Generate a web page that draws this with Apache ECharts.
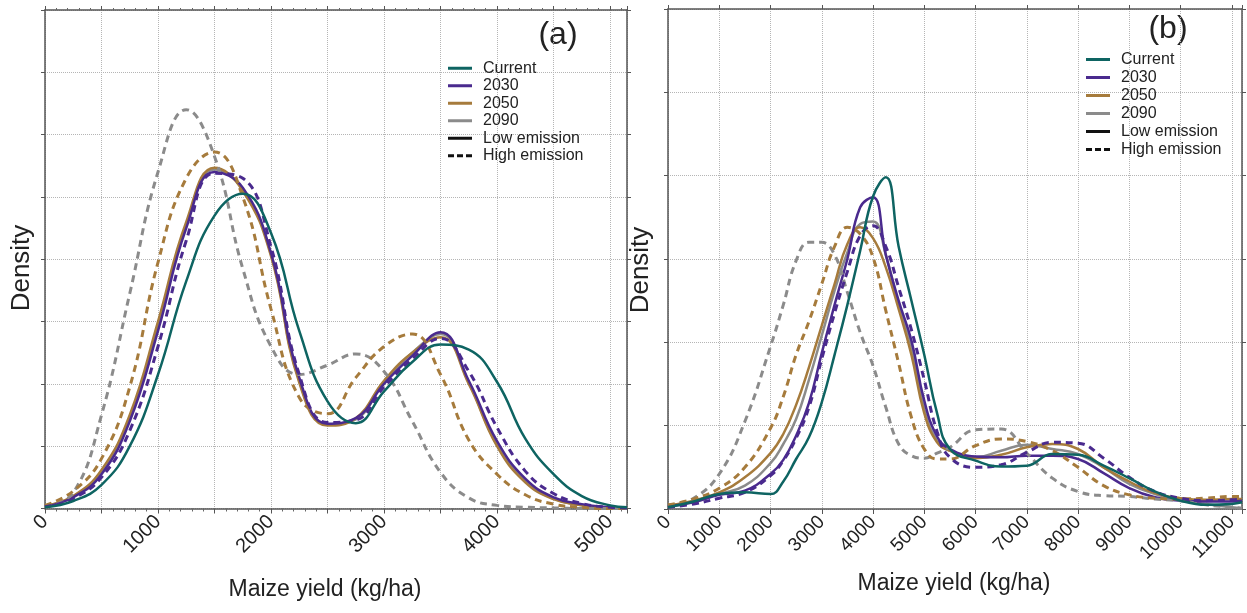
<!DOCTYPE html>
<html>
<head>
<meta charset="utf-8">
<script src="https://cdn.jsdelivr.net/npm/echarts@6/dist/echarts.min.js"></script>
<style>
html,body{margin:0;padding:0;background:#fff;}
#chart{width:1247px;height:613px;}
</style>
</head>
<body>
<div id="chart"></div>
<script>
// ---------- Panel (a) data ----------
const xA = [0,250,500,750,1000,1250,1500,1750,2000,2250,2500,2750,3000,3250,3500,3750,4000,4250,4500,4750,5000,5150];
const aCurrent  = [0.02,0.12,0.38,1.0,2.15,3.65,4.7,5.05,4.42,2.85,1.72,1.37,1.88,2.35,2.63,2.55,2.03,1.12,0.55,0.2,0.05,0.02];
const a2030Low  = [0.03,0.18,0.55,1.4,2.85,4.5,5.4,5.15,4.1,2.1,1.36,1.45,2.0,2.45,2.83,2.05,1.08,0.48,0.18,0.07,0.02,0.01];
const a2030High = [0.03,0.16,0.5,1.25,2.6,4.3,5.38,5.3,4.2,2.15,1.38,1.42,1.95,2.4,2.73,2.2,1.3,0.6,0.24,0.08,0.02,0.01];
const a2050Low  = [0.04,0.2,0.62,1.5,3.0,4.6,5.47,5.1,4.05,2.02,1.33,1.45,2.05,2.5,2.75,2.0,1.0,0.42,0.15,0.05,0.01,0];
const a2050High = [0.05,0.28,0.8,1.95,3.95,5.3,5.72,5.0,3.2,1.78,1.52,2.1,2.6,2.8,2.15,1.1,0.55,0.22,0.07,0.02,0,0];
const a2090Low  = [0.04,0.19,0.6,1.45,2.95,4.55,5.44,5.12,4.08,2.05,1.35,1.43,2.03,2.5,2.8,2.02,1.02,0.44,0.16,0.05,0.01,0];
const a2090High = [0.03,0.25,1.5,3.45,5.4,6.4,5.65,3.85,2.6,2.15,2.3,2.48,2.2,1.4,0.58,0.17,0.05,0.02,0.01,0,0,0];

// ---------- Panel (b) data ----------
const xB = [0,500,1000,1500,2000,2250,2500,2750,3000,3250,3500,3750,4000,4250,4500,4750,5000,5250,5500,6000,6500,7000,7500,8000,8500,9000,9500,10000,10500,11000,11200];
const bCurrent  = [0.02,0.09,0.18,0.2,0.18,0.33,0.6,0.86,1.28,1.85,2.45,3.1,3.75,3.98,3.15,2.5,1.85,1.15,0.72,0.58,0.51,0.52,0.66,0.65,0.52,0.37,0.21,0.1,0.05,0.06,0.08];
const b2030Low  = [0.03,0.08,0.17,0.22,0.42,0.59,0.88,1.27,1.87,2.45,3.0,3.62,3.74,3.05,2.5,2.02,1.3,0.87,0.72,0.63,0.62,0.64,0.64,0.6,0.43,0.25,0.14,0.1,0.09,0.09,0.1];
const b2030High = [0.02,0.06,0.13,0.2,0.4,0.58,0.85,1.22,1.8,2.35,2.85,3.28,3.4,3.15,2.66,2.15,1.55,0.93,0.62,0.5,0.53,0.68,0.8,0.79,0.61,0.38,0.21,0.13,0.1,0.11,0.12];
const b2050Low  = [0.04,0.1,0.2,0.38,0.67,0.9,1.25,1.7,2.2,2.7,3.18,3.38,3.25,2.9,2.4,1.85,1.15,0.8,0.7,0.61,0.65,0.74,0.78,0.72,0.5,0.33,0.19,0.13,0.11,0.12,0.12];
const b2050High = [0.05,0.12,0.25,0.5,0.97,1.35,1.85,2.25,2.7,3.15,3.38,3.3,3.02,2.38,1.75,1.1,0.72,0.6,0.6,0.76,0.84,0.81,0.7,0.5,0.28,0.17,0.13,0.12,0.13,0.15,0.15];
const b2090Low  = [0.04,0.09,0.18,0.28,0.55,0.78,1.08,1.55,2.08,2.62,3.08,3.42,3.45,3.05,2.45,1.95,1.2,0.82,0.7,0.62,0.7,0.77,0.72,0.66,0.5,0.3,0.18,0.11,0.06,0.02,0.01];
const b2090High = [0.04,0.13,0.42,1.05,1.95,2.45,2.98,3.2,3.2,3.05,2.6,2.12,1.72,1.22,0.78,0.64,0.61,0.67,0.74,0.95,0.96,0.67,0.37,0.21,0.16,0.15,0.12,0.1,0.05,0.02,0.01];

// ---------- Labels ----------
const legendNames = ['Current','2030','2050','2090','Low emission','High emission'];
const xTitle = 'Maize yield (kg/ha)';
const yTitle = 'Density';

const COL = {cur:'#0e6462', y2030:'#4a2a8e', y2050:'#a67b3c', y2090:'#8b8b8b'};
const FONT = 'Liberation Sans, Arial, Helvetica, sans-serif';
const DASH = [7,5];
const DASH_ICON = 'path://M0,0H6V2H0Z M9,0H15V2H9Z M18,0H24V2H18Z';

function pairs(xs, ys){ return xs.map((x,i)=>[x, ys[i]]); }
function line(name, xs, ys, color, dashed, idx, z){
  return {
    name: name, type:'line', xAxisIndex: idx, yAxisIndex: idx,
    data: pairs(xs, ys), smooth: 0.45, symbol:'none', showSymbol:false,
    lineStyle:{color: color, width: dashed ? 3 : 2.5, type: dashed ? DASH : 'solid'},
    itemStyle:{color: color}, z: z, silent:true
  };
}

function xAxes(grid, max, interval, labelEvery, fontSize, minor){
  return [{
    type:'value', gridIndex: grid, position:'bottom', min:0, max:max, interval:interval,
    axisLine:{show:true, onZero:false, lineStyle:{color:'#555', width:1.5}},
    axisTick:{show:true, length:5, lineStyle:{color:'#555'}},
    minorTick:{show: minor, splitNumber:5, length:3, lineStyle:{color:'#666'}},
    splitLine:{show:true, lineStyle:{color:'#b5b5b5', type:'dotted', width:1}},
    axisLabel:{rotate:45, fontSize:fontSize, color:'#222', fontFamily:FONT, margin:10,
      formatter: v => (v % labelEvery === 0 ? String(v) : '')}
  },{
    type:'value', gridIndex: grid, position:'top', min:0, max:max, interval:interval,
    axisLine:{show:true, onZero:false, lineStyle:{color:'#555', width:1.5}},
    axisTick:{show:true, length:4, lineStyle:{color:'#555'}},
    minorTick:{show: minor, splitNumber:5, length:2, lineStyle:{color:'#666'}},
    splitLine:{show:false}, axisLabel:{show:false}
  }];
}
function yAxes(grid, max){
  return [{
    type:'value', gridIndex: grid, position:'left', min:0, max:max, interval:1,
    axisLine:{show:true, onZero:false, lineStyle:{color:'#555', width:1.5}},
    axisTick:{show:true, length:4, lineStyle:{color:'#555'}},
    splitLine:{show:true, lineStyle:{color:'#b5b5b5', type:'dotted', width:1}},
    axisLabel:{show:false}
  },{
    type:'value', gridIndex: grid, position:'right', min:0, max:max, interval:1,
    axisLine:{show:true, onZero:false, lineStyle:{color:'#555', width:1.5}},
    axisTick:{show:true, length:4, lineStyle:{color:'#555'}},
    splitLine:{show:false}, axisLabel:{show:false}
  }];
}

const xa = xAxes(0, 5150, 500, 1000, 20, true);
const xb = xAxes(1, 11200, 1000, 1000, 19, false);
const ya = yAxes(0, 8);
const yb = yAxes(1, 6);

// axis index 0 = panel (a) bottom/left, 2 = panel (b) bottom/left
const series = [
  line('2090', xA, a2090Low, COL.y2090, false, 0, 2),
  line('2050', xA, a2050Low, COL.y2050, false, 0, 3),
  line('2030', xA, a2030Low, COL.y2030, false, 0, 4),
  line('2090 high', xA, a2090High, COL.y2090, true, 0, 5),
  line('2050 high', xA, a2050High, COL.y2050, true, 0, 5),
  line('2030 high', xA, a2030High, COL.y2030, true, 0, 6),
  line('Current', xA, aCurrent, COL.cur, false, 0, 7),
  line('2090', xB, b2090Low, COL.y2090, false, 2, 2),
  line('2050', xB, b2050Low, COL.y2050, false, 2, 3),
  line('2030', xB, b2030Low, COL.y2030, false, 2, 4),
  line('2090 high', xB, b2090High, COL.y2090, true, 2, 5),
  line('2050 high', xB, b2050High, COL.y2050, true, 2, 5),
  line('2030 high', xB, b2030High, COL.y2030, true, 2, 6),
  line('Current', xB, bCurrent, COL.cur, false, 2, 7),
  {name:'Low emission', type:'line', xAxisIndex:0, yAxisIndex:0, data:[], symbol:'none',
   lineStyle:{color:'#111', width:2.5}, itemStyle:{color:'#111'}},
  {name:'High emission', type:'line', xAxisIndex:0, yAxisIndex:0, data:[], symbol:'none',
   lineStyle:{color:'#111', width:2.5, type:[4,3.5]}, itemStyle:{color:'#111'}}
];

function legend(left, top, rowH){
  return {
    data: legendNames.map(n => ({name:n, icon: n === 'High emission' ? DASH_ICON : 'rect'})),
    orient:'vertical', left:left, top:top, itemWidth:24, itemHeight:3, itemGap:0,
    symbolKeepAspect:false, selectedMode:false, padding:0,
    itemStyle:{borderWidth:0},
    textStyle:{fontSize:16, color:'#222', fontFamily:FONT, lineHeight:rowH, padding:[0,0,0,6]}
  };
}

function txt(x, y, s, size, rot){
  return {type:'text', x:x, y:y, rotation: rot || 0,
    style:{text:s, fontSize:size, fill:'#222', fontFamily:FONT,
      textAlign:'center', textVerticalAlign:'middle', align:'center', verticalAlign:'middle'}};
}

const option = {
  animation:false,
  backgroundColor:'#fff',
  grid:[
    {left:45, top:10, width:582, height:498.5},
    {left:668, top:9, width:574, height:500}
  ],
  xAxis:[xa[0], xa[1], xb[0], xb[1]],
  yAxis:[ya[0], ya[1], yb[0], yb[1]],
  legend:[legend(448, 59.5, 17.5), legend(1086, 50.5, 18)],
  series: series,
  graphic:[
    txt(558, 35, '(a)', 32),
    txt(1168, 29, '(b)', 32),
    txt(22, 268, yTitle, 26, Math.PI/2),
    txt(641, 270, yTitle, 26, Math.PI/2),
    txt(325, 590, xTitle, 23),
    txt(954, 584, xTitle, 23)
  ]
};
const chart = echarts.init(document.getElementById('chart'), null, {renderer:'canvas'});
chart.setOption(option);
</script>
</body>
</html>
